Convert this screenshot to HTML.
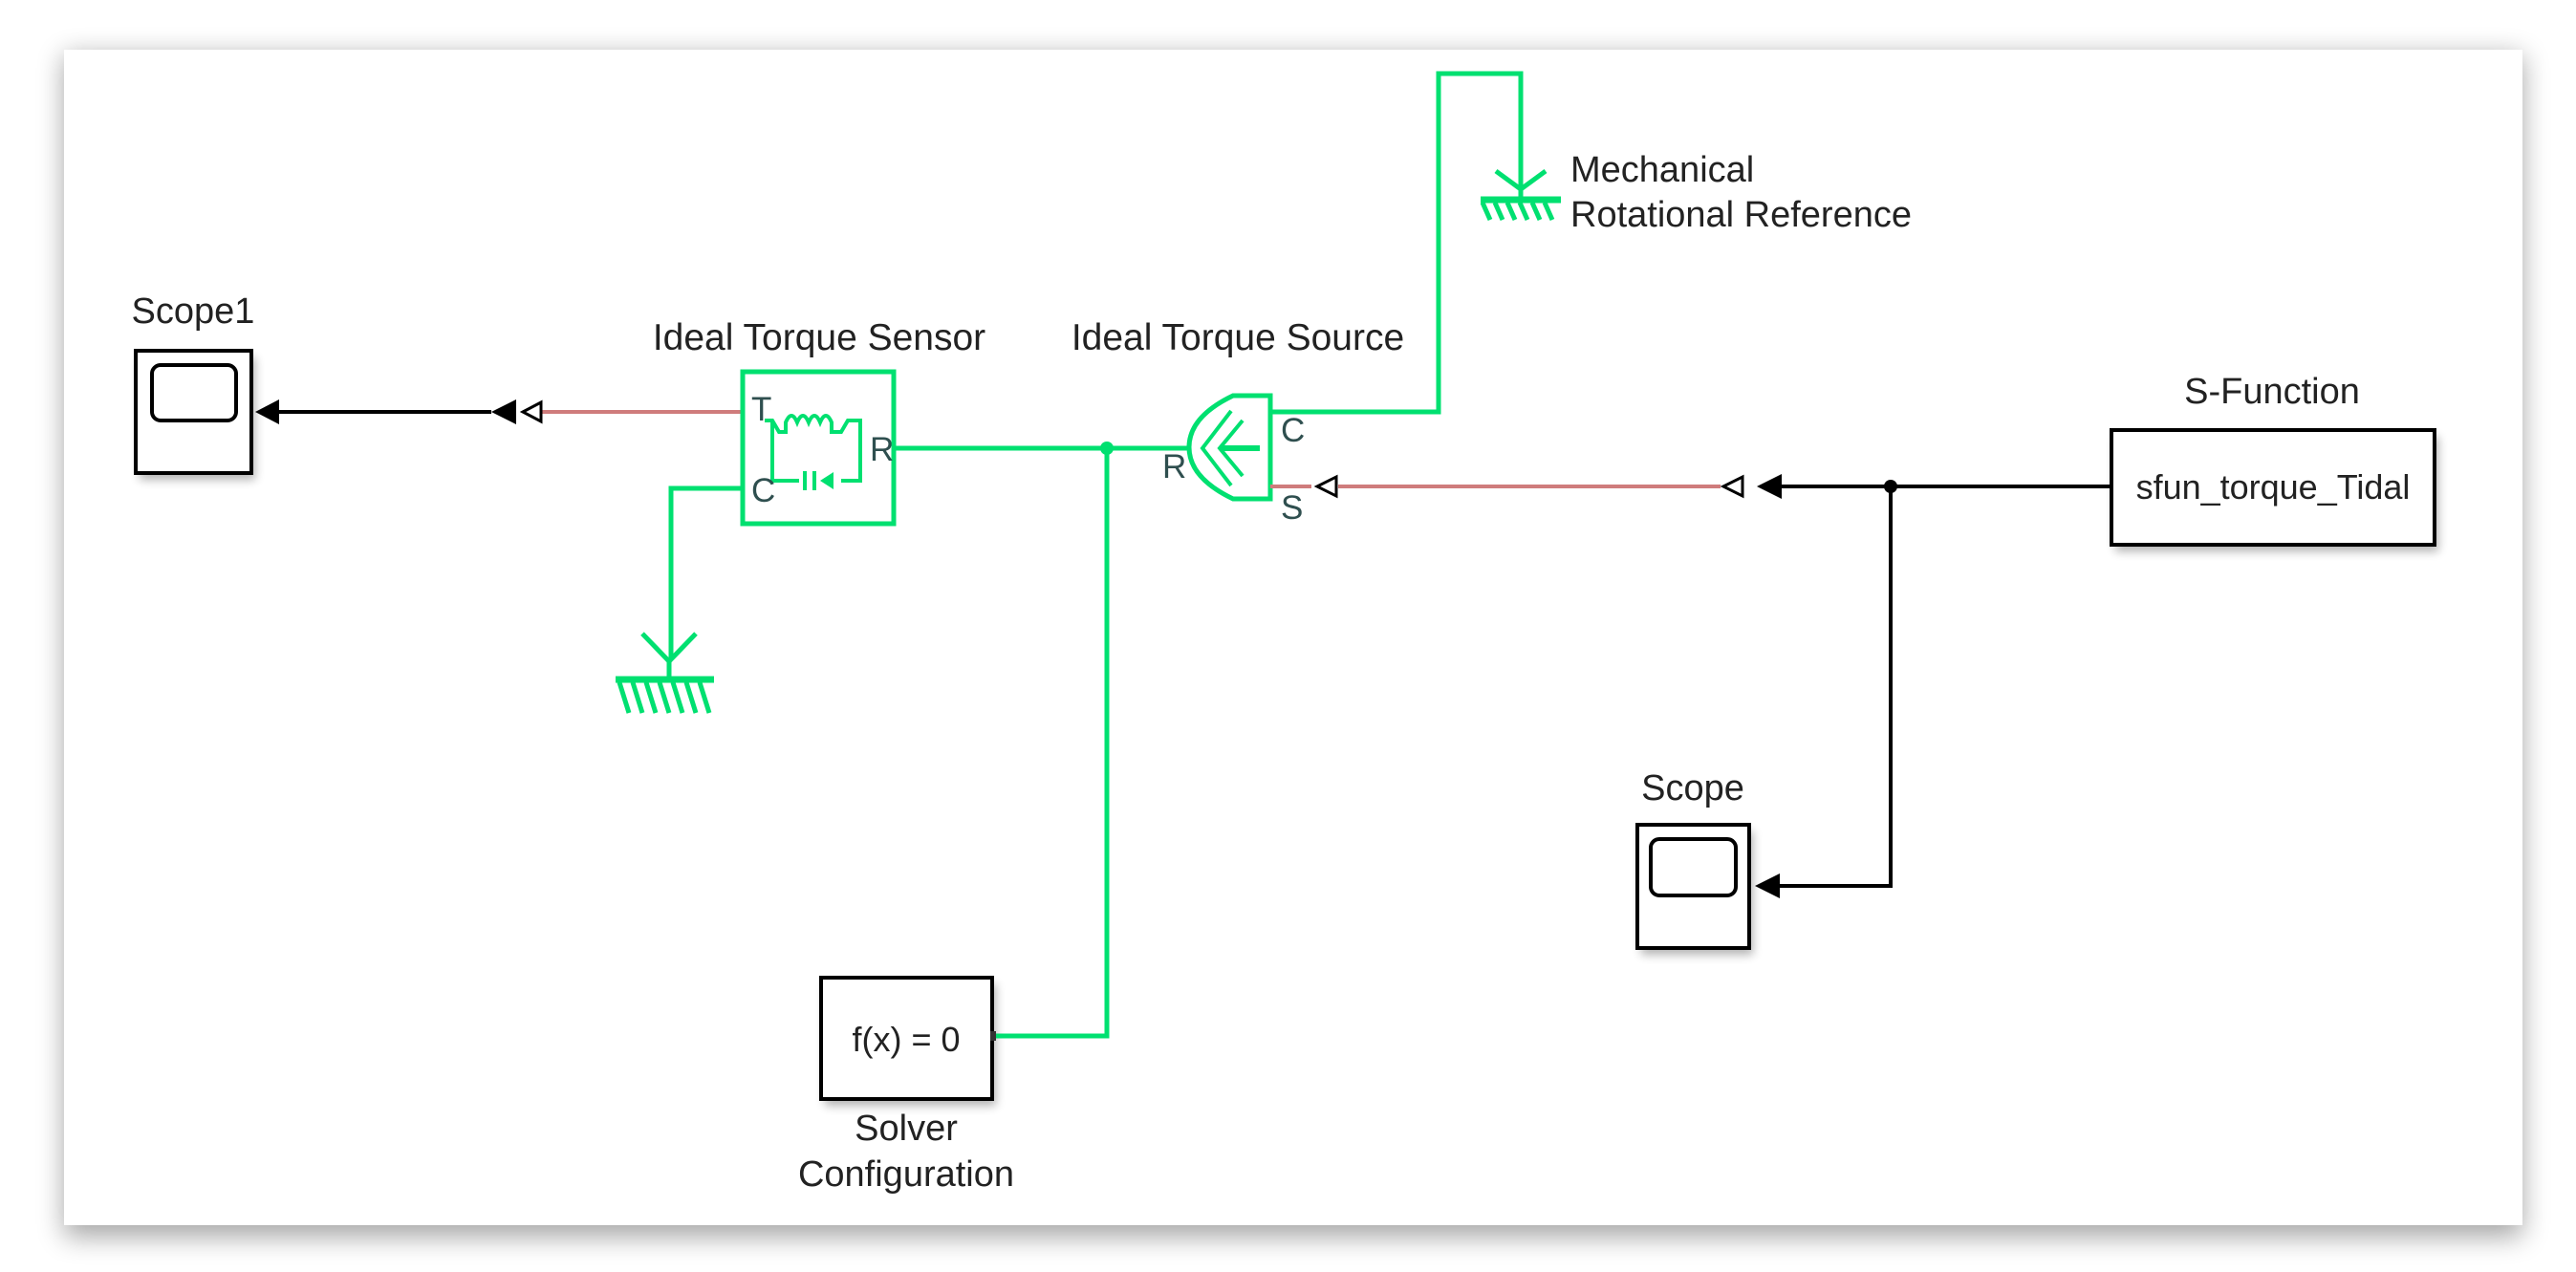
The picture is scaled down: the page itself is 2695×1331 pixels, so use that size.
<!DOCTYPE html>
<html><head><meta charset="utf-8"><style>
html,body{margin:0;padding:0;background:#fff;}
svg{display:block;}
text{font-family:"Liberation Sans",Arial,sans-serif;fill:#222;}
</style></head><body>
<svg width="2695" height="1331" viewBox="0 0 2695 1331" xmlns="http://www.w3.org/2000/svg">
<defs>
<filter id="sh" x="-5%" y="-10%" width="110%" height="120%"><feGaussianBlur stdDeviation="14"/></filter>
<filter id="bs" x="-20%" y="-20%" width="140%" height="140%"><feGaussianBlur stdDeviation="5"/></filter>
</defs>
<rect x="67" y="58" width="2572" height="1236" fill="#000" opacity="0.35" filter="url(#sh)"/>
<rect x="67" y="52" width="2572" height="1230" fill="#fff"/>

<g fill="#000" opacity="0.3" filter="url(#bs)">
<rect x="146" y="374" width="121" height="128"/>
<rect x="2213" y="457" width="338" height="120"/>
<rect x="1717" y="870" width="117" height="129"/>
<rect x="863" y="1030" width="179" height="127"/>
</g>

<!-- Scope1 -->
<text x="202" y="338" font-size="38" text-anchor="middle">Scope1</text>
<rect x="142" y="367" width="121" height="128" fill="#fff" stroke="#000" stroke-width="4"/>
<rect x="159" y="382" width="88" height="58" rx="9" fill="#fff" stroke="#000" stroke-width="4"/>

<line x1="780" y1="431" x2="560" y2="431" stroke="#cf7c7c" stroke-width="4"/>
<polygon points="547,431 566,421 566,441" fill="#fff" stroke="#000" stroke-width="3"/>
<polygon points="514,431 540,418 540,444" fill="#000"/>
<line x1="514" y1="431" x2="280" y2="431" stroke="#000" stroke-width="4"/>
<polygon points="267,431 292,418 292,444" fill="#000"/>

<!-- Ideal Torque Sensor -->
<text x="857" y="366" font-size="39" text-anchor="middle">Ideal Torque Sensor</text>
<rect x="777" y="389" width="158" height="159" fill="#fff" stroke="#00e070" stroke-width="5"/>
<g stroke="#00e070" stroke-width="4" fill="none">
<path d="M800 440 L808 440 L815 452 L822 452 L822 442 q6 -14 12 0 q6 -14 12 0 q6 -14 12 0 q6 -14 12 0 L870 452 L880 452 L887 440 L900 440 L900 503 L880 503"/>
<path d="M808 440 L808 503 L836 503"/>
<line x1="842" y1="493" x2="842" y2="513"/>
<line x1="852" y1="493" x2="852" y2="513"/>
</g>
<polygon points="858,503 872,494 872,512" fill="#00e070"/>
<text x="786" y="440" font-size="35" style="fill:#2f4f4f">T</text>
<text x="910" y="482" font-size="35" style="fill:#2f4f4f">R</text>
<text x="786" y="525" font-size="35" style="fill:#2f4f4f">C</text>

<g stroke="#00e070" stroke-width="5" fill="none">
<polyline points="777,511 702,511 702,690"/>
<line x1="937" y1="469" x2="1245" y2="469"/>
<polyline points="1158,469 1158,1084 1040,1084"/>
<polyline points="1329,431 1505,431 1505,77 1591,77 1591,196"/>
</g>
<circle cx="1158" cy="469" r="7" fill="#00e070"/>

<g stroke="#00e070" stroke-width="5" fill="none">
<path d="M672 663 L700 692 L728 663"/>
<line x1="700" y1="690" x2="700" y2="711"/>
<line x1="644" y1="711" x2="747" y2="711" stroke-width="7"/>
<path d="M648 714 l10 32 M662 714 l10 32 M676 714 l10 32 M690 714 l10 32 M704 714 l10 32 M718 714 l10 32 M732 714 l10 32"/>
</g>

<g stroke="#00e070" stroke-width="5" fill="none">
<path d="M1565 179 L1591 198 L1617 179"/>
<line x1="1591" y1="196" x2="1591" y2="208"/>
<line x1="1549" y1="209" x2="1633" y2="209" stroke-width="7"/>
<path d="M1551 212 l8 18 M1564 212 l8 18 M1577 212 l8 18 M1590 212 l8 18 M1603 212 l8 18 M1616 212 l8 18"/>
</g>
<text x="1643" y="190" font-size="38">Mechanical</text>
<text x="1643" y="237" font-size="38">Rotational Reference</text>

<!-- Ideal Torque Source -->
<text x="1295" y="366" font-size="39" text-anchor="middle">Ideal Torque Source</text>
<path d="M1290 414 L1329 414 L1329 522 L1290 522 Q1244 500 1244 468 Q1244 436 1290 414 Z" fill="#fff" stroke="#00e070" stroke-width="5"/>
<g stroke="#00e070" stroke-width="4" fill="none">
<path d="M1288 430 L1258 469 L1288 508"/>
<path d="M1300 440 L1276 469 L1300 498"/>
<line x1="1278" y1="469" x2="1318" y2="469" stroke-width="6"/>
</g>
<text x="1340" y="462" font-size="35" style="fill:#2f4f4f">C</text>
<text x="1340" y="543" font-size="35" style="fill:#2f4f4f">S</text>
<text x="1216" y="500" font-size="35" style="fill:#2f4f4f">R</text>

<line x1="1329" y1="509" x2="1372" y2="509" stroke="#cf7c7c" stroke-width="4"/>
<polygon points="1378,509 1398,499 1398,519" fill="#fff" stroke="#000" stroke-width="3"/>
<line x1="1400" y1="509" x2="1800" y2="509" stroke="#cf7c7c" stroke-width="4"/>
<polygon points="1803,509 1823,499 1823,519" fill="#fff" stroke="#000" stroke-width="3"/>
<polygon points="1838,509 1864,496 1864,522" fill="#000"/>
<line x1="1864" y1="509" x2="2209" y2="509" stroke="#000" stroke-width="4"/>
<circle cx="1978" cy="509" r="7" fill="#000"/>
<polyline points="1978,509 1978,927 1852,927" stroke="#000" stroke-width="4" fill="none"/>
<polygon points="1836,927 1862,914 1862,940" fill="#000"/>

<!-- S-Function -->
<text x="2377" y="422" font-size="38" text-anchor="middle">S-Function</text>
<rect x="2209" y="450" width="338" height="120" fill="#fff" stroke="#000" stroke-width="4"/>
<text x="2378" y="522" font-size="36" text-anchor="middle">sfun_torque_Tidal</text>

<!-- Scope -->
<text x="1771" y="837" font-size="38" text-anchor="middle">Scope</text>
<rect x="1713" y="863" width="117" height="129" fill="#fff" stroke="#000" stroke-width="4"/>
<rect x="1727" y="878" width="89" height="59" rx="9" fill="#fff" stroke="#000" stroke-width="4"/>

<!-- Solver -->
<rect x="859" y="1023" width="179" height="127" fill="#fff" stroke="#000" stroke-width="4"/>
<rect x="1036" y="1079" width="6" height="10" fill="#333"/>
<text x="948" y="1100" font-size="36" text-anchor="middle">f(x) = 0</text>
<text x="948" y="1193" font-size="38" text-anchor="middle">Solver</text>
<text x="948" y="1241" font-size="38" text-anchor="middle">Configuration</text>
</svg>
</body></html>
